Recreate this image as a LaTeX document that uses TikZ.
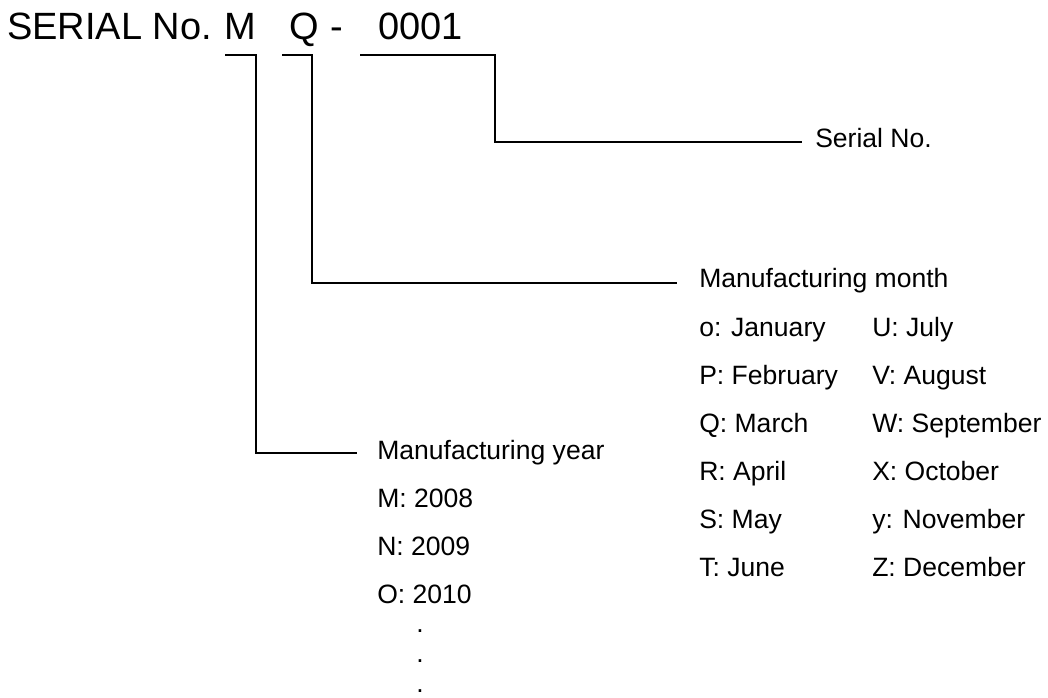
\documentclass[tikz,border=0pt]{standalone}
\usepackage{fontspec}
\setmainfont{Liberation Sans}
\begin{document}
\begin{tikzpicture}[x=0.75pt,y=-0.75pt,
  txt/.style={inner sep=0pt,anchor=base west,font=\fontsize{19.9pt}{24pt}\selectfont},
  ttl/.style={inner sep=0pt,anchor=base west,font=\fontsize{28.5pt}{33pt}\selectfont},
  conn/.style={line width=1.4pt}]
\useasboundingbox (0,0) rectangle (1048,698);
% title
\node[ttl] (title) at (7,40) {SERIAL No.};
\node[ttl] (m) at (224,40) {M};
\node[ttl] (q) at (289,40) {Q};
\node[ttl] (dash) at (330,40) {-};
\node[ttl] (num) at (378,40) {0001};
% labels
\node[txt] (serial) at (815,148) {Serial No.};
\node[txt] (month) at (699,288) {Manufacturing month};
\node[txt] (year) at (377,459) {Manufacturing year};
% month list
\foreach \t [count=\i] in {o: January,P: February,Q: March,R: April,S: May,T: June}
  \node[txt] (ma\i) at (699,288+48*\i) {\t};
\foreach \t [count=\i] in {U: July,V: August,W: September,X: October,y: November,Z: December}
  \node[txt] (mb\i) at (872,288+48*\i) {\t};
% year list
\foreach \t [count=\i] in {M: 2008,N: 2009,O: 2010}
  \node[txt] (y\i) at (377,459+48*\i) {\t};
\foreach \yy [count=\i] in {632,662,692}
  \node[txt] (dot\i) at (416,\yy) {.};
% connector points
\coordinate (mA) at (225,55);
\coordinate (mB) at (256,55);
\coordinate (mE) at (357,453);
\coordinate (qA) at (282,55);
\coordinate (qB) at (312,55);
\coordinate (qE) at (677,283);
\coordinate (nA) at (360,55);
\coordinate (nB) at (495,55);
\coordinate (nE) at (802,142);
\draw[conn] (mA) -- (mB) |- (mE);
\draw[conn] (qA) -- (qB) |- (qE);
\draw[conn] (nA) -- (nB) |- (nE);
\end{tikzpicture}
\end{document}
